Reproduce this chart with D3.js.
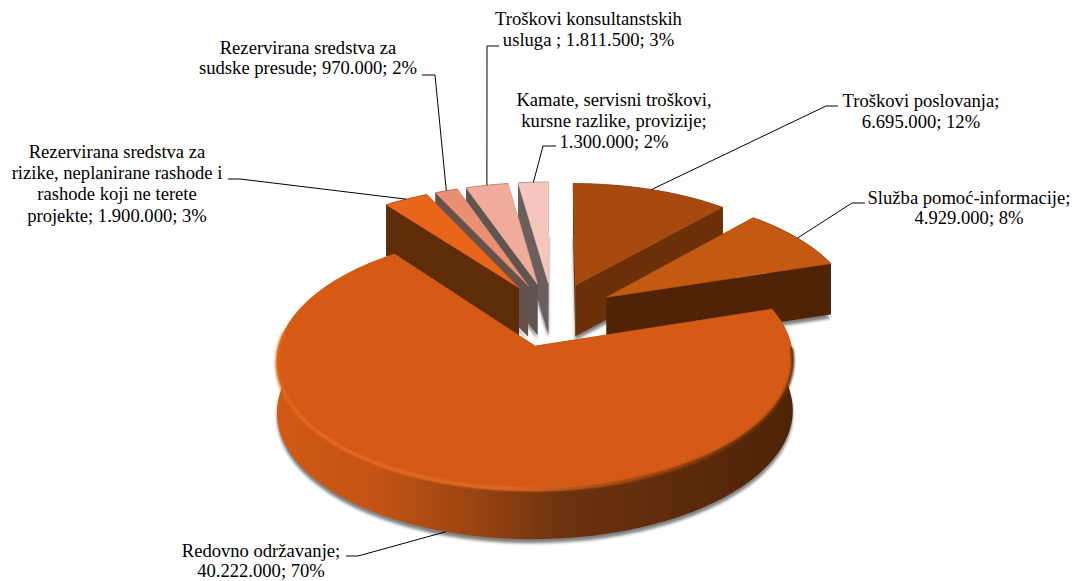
<!DOCTYPE html>
<html>
<head>
<meta charset="utf-8">
<script src="https://cdn.jsdelivr.net/npm/d3@7"></script>
<style>
  html, body { margin: 0; padding: 0; background: #fff; }
  svg { display: block; }
  svg text { font-family: "Liberation Serif", "Times New Roman", serif; font-size: 18.6px; fill: #000; }
</style>
</head>
<body>
<svg id="chart" role="img" aria-label="3D pie chart"></svg>
<script>
const categories = [
  "Troškovi poslovanja",
  "Služba pomoć-informacije",
  "Redovno održavanje",
  "Rezervirana sredstva za rizike, neplanirane rashode i rashode koji ne terete projekte",
  "Rezervirana sredstva za sudske presude",
  "Troškovi konsultanstskih usluga",
  "Kamate, servisni troškovi, kursne razlike, provizije"
];
const values = [6695000, 4929000, 40222000, 1900000, 970000, 1811500, 1300000];
const labelLines = [
  ["Troškovi poslovanja;", "6.695.000; 12%"],
  ["Služba pomoć-informacije;", "4.929.000; 8%"],
  ["Redovno održavanje;", "40.222.000; 70%"],
  ["Rezervirana sredstva za", "rizike, neplanirane rashode i", "rashode koji ne terete", "projekte; 1.900.000; 3%"],
  ["Rezervirana sredstva za", "sudske presude; 970.000; 2%"],
  ["Troškovi konsultanstskih", "usluga ; 1.811.500; 3%"],
  ["Kamate, servisni troškovi,", "kursne razlike, provizije;", "1.300.000; 2%"]
];

// colours per slice, same order as categories
const topColors = ["#a84a0e", "#c45a12", "#d55a15", "#e8651a", "#ea8f72", "#f0ab9a", "#f5c6bd"];
const wallColors = ["#6b3008", "#4f2306", "#4f2306", "#5f2c08", "#66504a", "#5f5450", "#6a5f5d"];

// label placement: centre x, first baseline, line step, then the elbow of the leader
const labelLayout = [
  { x: 921, y: 107, step: 21, elbow: [[838, 106], [826, 106]] },
  { x: 969, y: 204, step: 20, elbow: [[865, 203], [852, 203]] },
  { x: 261, y: 557, step: 20, elbow: [[346, 556], [358, 556]] },
  { x: 117, y: 158, step: 21.2, elbow: [[228, 179], [240, 179]] },
  { x: 308, y: 54, step: 20, elbow: [[422, 75], [435, 75]] },
  { x: 588.5, y: 25, step: 21, elbow: [[499, 46], [487, 46]] },
  { x: 614, y: 106, step: 21, elbow: [[556, 146], [543, 146]] }
];

const width = 1075;
const height = 581;
const center = { x: 553, y: 314.5 };
const explode = 0.27;
const persp = 0.11;
const depth = 51;
const drawOrder = [6, 5, 4, 3, 0, 1, 2];
// small sideways pixel corrections per slice
const nudgeX = [-1, -2, 3, 0, 0, 0, 0];

const xScale = d3.scaleLinear().domain([-1, 1]).range([-249, 249]);
const yScale = d3.scaleLinear().domain([-1, 1]).range([-119, 119]);

// pie plane to screen, with a bit of perspective so the near side is larger
function project(px, py, h) {
  const w = 1 - persp * py;
  return [center.x + xScale(px) / w, center.y + yScale(py) / w + h];
}

const pie = d3.pie().sort(null).value(function(d) { return d; });
const arcs = pie(values);
const lineGen = d3.line();

function sliceOrigin(d) {
  const mid = (d.startAngle + d.endAngle) / 2;
  return [explode * Math.sin(mid), -explode * Math.cos(mid)];
}

function rimPoint(d, angle, h) {
  const o = sliceOrigin(d);
  const p = project(o[0] + Math.sin(angle), o[1] - Math.cos(angle), h);
  return [p[0] + nudgeX[d.index], p[1]];
}

function rimPoints(d, h, a0, a1) {
  const from = a0 === undefined ? d.startAngle : a0;
  const to = a1 === undefined ? d.endAngle : a1;
  const n = Math.max(2, Math.ceil((to - from) / 0.02));
  return d3.range(n + 1).map(function(i) {
    return rimPoint(d, from + (to - from) * i / n, h);
  });
}

function apex(d, h) {
  const o = sliceOrigin(d);
  const p = project(o[0], o[1], h);
  return [p[0] + nudgeX[d.index], p[1]];
}

function facePath(d, h) {
  return lineGen([apex(d, h)].concat(rimPoints(d, h))) + "Z";
}

function radialWall(d, angle) {
  return lineGen([apex(d, 0), rimPoint(d, angle, 0), rimPoint(d, angle, depth), apex(d, depth)]) + "Z";
}

function outerWall(d) {
  return lineGen(rimPoints(d, 0).concat(rimPoints(d, depth).reverse())) + "Z";
}

const svg = d3.select("#chart").attr("width", width).attr("height", height)
  .attr("viewBox", "0 0 " + width + " " + height);

const defs = svg.append("defs");
defs.append("filter").attr("id", "soft").attr("x", "-10%").attr("y", "-10%").attr("width", "120%").attr("height", "120%")
  .append("feGaussianBlur").attr("stdDeviation", 1.8);
defs.append("filter").attr("id", "rimBlur").attr("x", "-10%").attr("y", "-10%").attr("width", "120%").attr("height", "120%")
  .append("feGaussianBlur").attr("stdDeviation", 0.9);

const sideGrad = defs.append("linearGradient").attr("id", "sideGrad")
  .attr("gradientUnits", "userSpaceOnUse").attr("x1", 276).attr("x2", 793).attr("y1", 0).attr("y2", 0);
[[0, "#d25a16"], [0.2, "#c25214"], [0.38, "#9a4512"], [0.55, "#6e320e"], [1, "#4e2407"]].forEach(function(s) {
  sideGrad.append("stop").attr("offset", s[0]).attr("stop-color", s[1]);
});
const rimGrad = defs.append("linearGradient").attr("id", "rimGrad")
  .attr("gradientUnits", "userSpaceOnUse").attr("x1", 276).attr("x2", 793).attr("y1", 0).attr("y2", 0);
[[0, "#e4661e"], [0.08, "#ec6c24"], [0.45, "#f0722a"], [0.72, "#a54b12"], [1, "#5a2a0a"]].forEach(function(s) {
  rimGrad.append("stop").attr("offset", s[0]).attr("stop-color", s[1]);
});

// grey shadow under every slice
svg.append("g").selectAll("path").data(arcs).join("path")
  .attr("d", function(d) { return facePath(d, depth + 4); })
  .attr("fill", "#808080")
  .attr("filter", "url(#soft)");

const slices = svg.append("g").selectAll("g")
  .data(drawOrder.map(function(i) { return arcs[i]; }))
  .join("g");

slices.each(function(d) {
  const g = d3.select(this);
  const isMain = d.index === 2;
  const wall = wallColors[d.index];
  g.append("path").attr("d", outerWall(d)).attr("fill", isMain ? "url(#sideGrad)" : wall);
  g.append("path").attr("d", radialWall(d, d.startAngle)).attr("fill", wall);
  g.append("path").attr("d", radialWall(d, d.endAngle)).attr("fill", wall);
  g.append("path").attr("d", facePath(d, 0)).attr("fill", topColors[d.index])
    .attr("stroke", topColors[d.index]).attr("stroke-width", 0.6);
  if (isMain) {
    // bevel along the near rim
    g.append("path")
      .attr("d", lineGen(rimPoints(d, 1.5, Math.PI * 0.5, Math.PI * 1.54)))
      .attr("fill", "none").attr("stroke", "url(#rimGrad)").attr("stroke-width", 3)
      .attr("filter", "url(#rimBlur)");
  }
  // thin dark edge on the far rim
  g.append("path").attr("d", lineGen(rimPoints(d, 0)))
    .attr("fill", "none").attr("stroke", "#5a4a44").attr("stroke-opacity", isMain ? 0 : 0.4).attr("stroke-width", 0.8);
});

// leader lines run from the mid point of each slice's rim to the label elbow
svg.append("g").selectAll("path").data(arcs).join("path")
  .attr("d", function(d) {
    const mid = (d.startAngle + d.endAngle) / 2;
    const end = rimPoint(d, mid, d.index === 2 ? depth : 0);
    return lineGen(labelLayout[d.index].elbow.concat([end]));
  })
  .attr("fill", "none").attr("stroke", "#000").attr("stroke-width", 1);

const labels = svg.append("g").selectAll("text").data(arcs).join("text")
  .attr("text-anchor", "middle");
labels.each(function(d) {
  const layout = labelLayout[d.index];
  d3.select(this).selectAll("tspan").data(labelLines[d.index]).join("tspan")
    .attr("x", layout.x)
    .attr("y", function(_, i) { return layout.y + i * layout.step; })
    .text(function(t) { return t; });
});
</script>
</body>
</html>
